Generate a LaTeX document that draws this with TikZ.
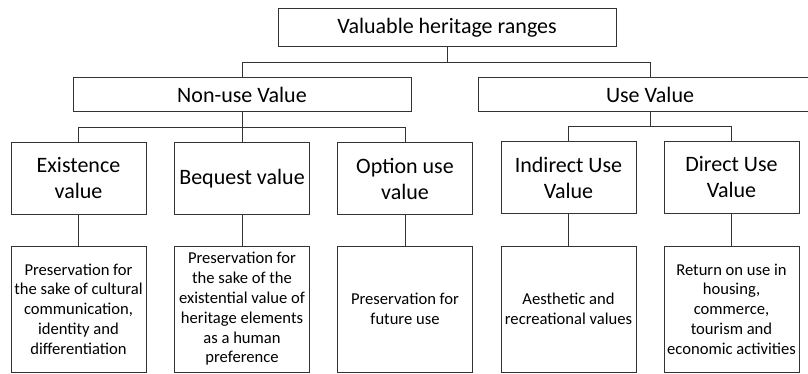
\documentclass[tikz,border=0pt]{standalone}
\usepackage{fontspec}
\setmainfont{Carlito}
\usepackage{tikz}

\tikzset{
  box/.style={draw=black!80,line width=1pt,align=center,inner sep=0pt,
    minimum height=#1},
  head/.style={box=34pt,font=\fontsize{22}{26}\selectfont},
  kind/.style={box=72pt,minimum width=135pt,font=\fontsize{22}{26}\selectfont},
  note/.style={box=126pt,minimum width=135pt,font=\fontsize{16.6}{19.8}\selectfont},
  link/.style={draw=black!80,line width=1pt}
}

\begin{document}
\begin{tikzpicture}[x=1pt,y=-1pt]
\useasboundingbox (0,0) rectangle (808,374);

\node[head,minimum width=338pt,minimum height=38pt] (top) at (447,28) {Valuable heritage ranges};
\node[head,minimum width=338pt] (nonuse) at (242,94.5) {Non-use Value};
\node[head,minimum width=344pt] (use) at (650,94.5) {Use Value};

\node[kind] (exist) at (78.5,178.5) {Existence\\value};
\node[kind] (bequest) at (242,178.5) {Bequest value};
\node[kind] (option) at (405,178.5) {Option use\\value};
\node[kind] (indirect) at (568.5,177.5) {Indirect Use\\Value};
\node[kind] (direct) at (731.5,177.5) {Direct Use\\Value};

\node[note] (existn) at (78.5,309) {Preservation for\\the sake of cultural\\communication,\\identity and\\differentiation};
\node[note] (bequestn) at (242,309) {Preservation for\\the sake of the\\existential value of\\heritage elements\\as a human\\preference};
\node[note] (optionn) at (405,309) {Preservation for\\future use};
\node[note] (indirectn) at (568.5,309) {Aesthetic and\\recreational values};
\node[note] (directn) at (731.5,309) {Return on use in\\housing,\\commerce,\\tourism and\\economic activities};

% tree connectors
\draw[link] (top.south) -- ++(0,15) -| (nonuse.north);
\draw[link] (top.south) -- ++(0,15) -| (use.north);
\draw[link] (nonuse.south) -- ++(0,16) -| (exist.north);
\draw[link] (nonuse.south) -- ++(0,16) -| (option.north);
\draw[link] (nonuse.south) -- (bequest.north);
\draw[link] (use.south) -- ++(0,15) -| (indirect.north);
\draw[link] (use.south) -- ++(0,15) -| (direct.north);

\foreach \k in {exist,bequest,option,indirect,direct}
  \draw[link] (\k.south) -- (\k n.north);
\end{tikzpicture}
\end{document}
